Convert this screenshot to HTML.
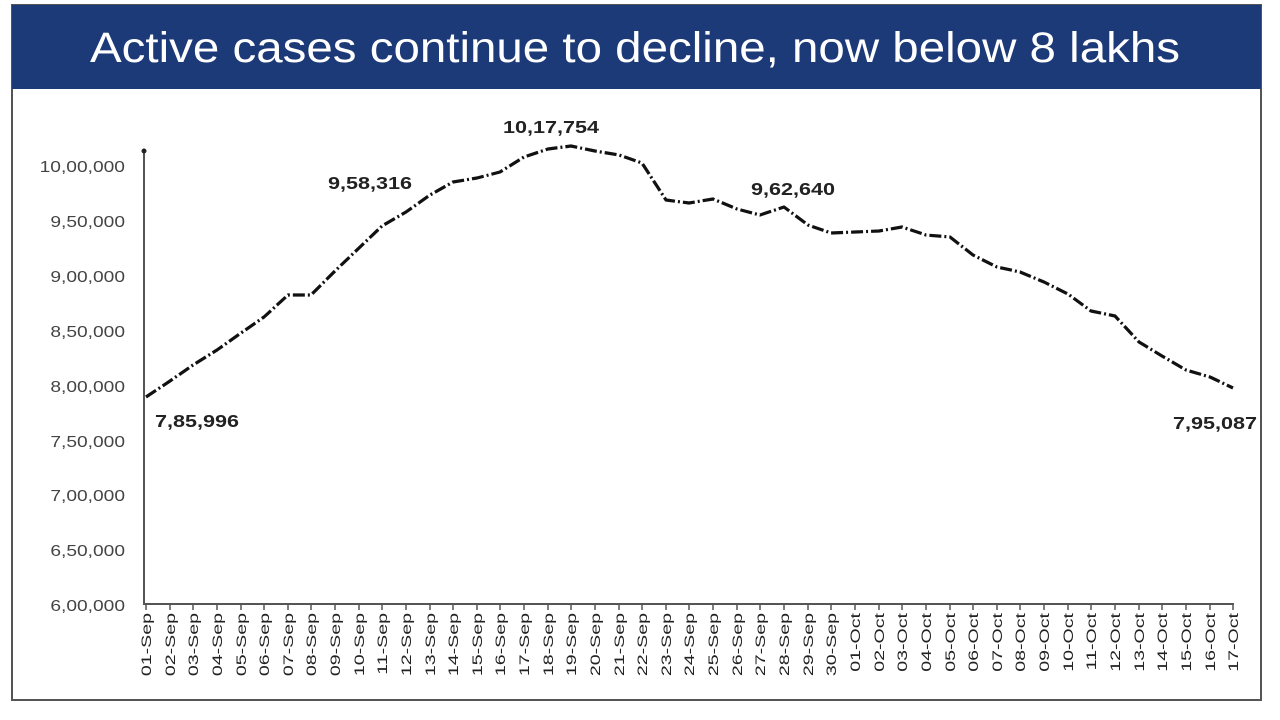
<!DOCTYPE html>
<html><head><meta charset="utf-8"><style>
html,body{margin:0;padding:0;background:#fff;width:1280px;height:720px;overflow:hidden}
svg{display:block}
</style></head><body>
<svg width="1280" height="720" viewBox="0 0 1280 720" xmlns="http://www.w3.org/2000/svg" font-family="Liberation Sans, sans-serif">
<rect x="0" y="0" width="1280" height="720" fill="#fff"/>
<rect x="12" y="5" width="1249" height="695" fill="none" stroke="#555" stroke-width="2"/>
<rect x="12" y="5" width="1249" height="84" fill="#1d3a78"/>
<text x="635" y="62" fill="#fff" font-size="43" text-anchor="middle" textLength="1090" lengthAdjust="spacingAndGlyphs">Active cases continue to decline, now below 8 lakhs</text>
<g stroke="#555" stroke-width="2" fill="none">
<line x1="144" y1="150" x2="144" y2="605"/>
<line x1="144" y1="604" x2="1234" y2="604"/>
</g>
<circle cx="144" cy="151" r="2.5" fill="#222"/>
<g font-size="16" fill="#444" text-anchor="end">
<text x="125" y="172" transform="translate(125 0) scale(1.2 1) translate(-125 0)">10,00,000</text>
<text x="125" y="227" transform="translate(125 0) scale(1.2 1) translate(-125 0)">9,50,000</text>
<text x="125" y="282" transform="translate(125 0) scale(1.2 1) translate(-125 0)">9,00,000</text>
<text x="125" y="337" transform="translate(125 0) scale(1.2 1) translate(-125 0)">8,50,000</text>
<text x="125" y="392" transform="translate(125 0) scale(1.2 1) translate(-125 0)">8,00,000</text>
<text x="125" y="447" transform="translate(125 0) scale(1.2 1) translate(-125 0)">7,50,000</text>
<text x="125" y="501" transform="translate(125 0) scale(1.2 1) translate(-125 0)">7,00,000</text>
<text x="125" y="556" transform="translate(125 0) scale(1.2 1) translate(-125 0)">6,50,000</text>
<text x="125" y="611" transform="translate(125 0) scale(1.2 1) translate(-125 0)">6,00,000</text>
</g>
<polyline fill="none" stroke="#111" stroke-width="3.2" stroke-linejoin="round" stroke-dasharray="12 3 2 3" points="146,397 170,381 193,365 217,350 241,333 264,317 288,295 311,295 335,271 359,248 382,226 406,212 430,195 453,182 477,178 500,172 524,157 548,149 571,146 595,151 619,155 642,163 666,200 689,203 713,199 737,209 760,215 784,207 808,225 831,233 855,232 879,231 902,227 926,235 950,237 973,255 997,267 1020,272 1044,282 1068,294 1091,311 1115,316 1139,342 1162,356 1186,370 1210,377 1233,388"/>
<g font-size="18" font-weight="bold" fill="#222">
<text text-anchor="middle" transform="translate(551 133) scale(1.2 1)">10,17,754</text>
<text text-anchor="middle" transform="translate(370 189) scale(1.2 1)">9,58,316</text>
<text text-anchor="middle" transform="translate(793 195) scale(1.2 1)">9,62,640</text>
<text transform="translate(155 427) scale(1.2 1)">7,85,996</text>
<text text-anchor="end" transform="translate(1257 429) scale(1.2 1)">7,95,087</text>
</g>
<g font-size="14" fill="#222" text-anchor="end">
<text transform="translate(151,613) rotate(-90) scale(1.4 1)">01-Sep</text><text transform="translate(175,613) rotate(-90) scale(1.4 1)">02-Sep</text><text transform="translate(198,613) rotate(-90) scale(1.4 1)">03-Sep</text><text transform="translate(222,613) rotate(-90) scale(1.4 1)">04-Sep</text><text transform="translate(246,613) rotate(-90) scale(1.4 1)">05-Sep</text><text transform="translate(269,613) rotate(-90) scale(1.4 1)">06-Sep</text><text transform="translate(293,613) rotate(-90) scale(1.4 1)">07-Sep</text><text transform="translate(316,613) rotate(-90) scale(1.4 1)">08-Sep</text><text transform="translate(340,613) rotate(-90) scale(1.4 1)">09-Sep</text><text transform="translate(364,613) rotate(-90) scale(1.4 1)">10-Sep</text><text transform="translate(387,613) rotate(-90) scale(1.4 1)">11-Sep</text><text transform="translate(411,613) rotate(-90) scale(1.4 1)">12-Sep</text><text transform="translate(435,613) rotate(-90) scale(1.4 1)">13-Sep</text><text transform="translate(458,613) rotate(-90) scale(1.4 1)">14-Sep</text><text transform="translate(482,613) rotate(-90) scale(1.4 1)">15-Sep</text><text transform="translate(505,613) rotate(-90) scale(1.4 1)">16-Sep</text><text transform="translate(529,613) rotate(-90) scale(1.4 1)">17-Sep</text><text transform="translate(553,613) rotate(-90) scale(1.4 1)">18-Sep</text><text transform="translate(576,613) rotate(-90) scale(1.4 1)">19-Sep</text><text transform="translate(600,613) rotate(-90) scale(1.4 1)">20-Sep</text><text transform="translate(624,613) rotate(-90) scale(1.4 1)">21-Sep</text><text transform="translate(647,613) rotate(-90) scale(1.4 1)">22-Sep</text><text transform="translate(671,613) rotate(-90) scale(1.4 1)">23-Sep</text><text transform="translate(694,613) rotate(-90) scale(1.4 1)">24-Sep</text><text transform="translate(718,613) rotate(-90) scale(1.4 1)">25-Sep</text><text transform="translate(742,613) rotate(-90) scale(1.4 1)">26-Sep</text><text transform="translate(765,613) rotate(-90) scale(1.4 1)">27-Sep</text><text transform="translate(789,613) rotate(-90) scale(1.4 1)">28-Sep</text><text transform="translate(813,613) rotate(-90) scale(1.4 1)">29-Sep</text><text transform="translate(836,613) rotate(-90) scale(1.4 1)">30-Sep</text><text transform="translate(860,613) rotate(-90) scale(1.4 1)">01-Oct</text><text transform="translate(884,613) rotate(-90) scale(1.4 1)">02-Oct</text><text transform="translate(907,613) rotate(-90) scale(1.4 1)">03-Oct</text><text transform="translate(931,613) rotate(-90) scale(1.4 1)">04-Oct</text><text transform="translate(955,613) rotate(-90) scale(1.4 1)">05-Oct</text><text transform="translate(978,613) rotate(-90) scale(1.4 1)">06-Oct</text><text transform="translate(1002,613) rotate(-90) scale(1.4 1)">07-Oct</text><text transform="translate(1025,613) rotate(-90) scale(1.4 1)">08-Oct</text><text transform="translate(1049,613) rotate(-90) scale(1.4 1)">09-Oct</text><text transform="translate(1073,613) rotate(-90) scale(1.4 1)">10-Oct</text><text transform="translate(1096,613) rotate(-90) scale(1.4 1)">11-Oct</text><text transform="translate(1120,613) rotate(-90) scale(1.4 1)">12-Oct</text><text transform="translate(1144,613) rotate(-90) scale(1.4 1)">13-Oct</text><text transform="translate(1167,613) rotate(-90) scale(1.4 1)">14-Oct</text><text transform="translate(1191,613) rotate(-90) scale(1.4 1)">15-Oct</text><text transform="translate(1215,613) rotate(-90) scale(1.4 1)">16-Oct</text><text transform="translate(1238,613) rotate(-90) scale(1.4 1)">17-Oct</text>
</g>
<g stroke="#555" stroke-width="1.5">
<path d="M146 604v6M170 604v6M193 604v6M217 604v6M241 604v6M264 604v6M288 604v6M311 604v6M335 604v6M359 604v6M382 604v6M406 604v6M430 604v6M453 604v6M477 604v6M500 604v6M524 604v6M548 604v6M571 604v6M595 604v6M619 604v6M642 604v6M666 604v6M689 604v6M713 604v6M737 604v6M760 604v6M784 604v6M808 604v6M831 604v6M855 604v6M879 604v6M902 604v6M926 604v6M950 604v6M973 604v6M997 604v6M1020 604v6M1044 604v6M1068 604v6M1091 604v6M1115 604v6M1139 604v6M1162 604v6M1186 604v6M1210 604v6M1233 604v6"/>
</g>
</svg>
</body></html>
